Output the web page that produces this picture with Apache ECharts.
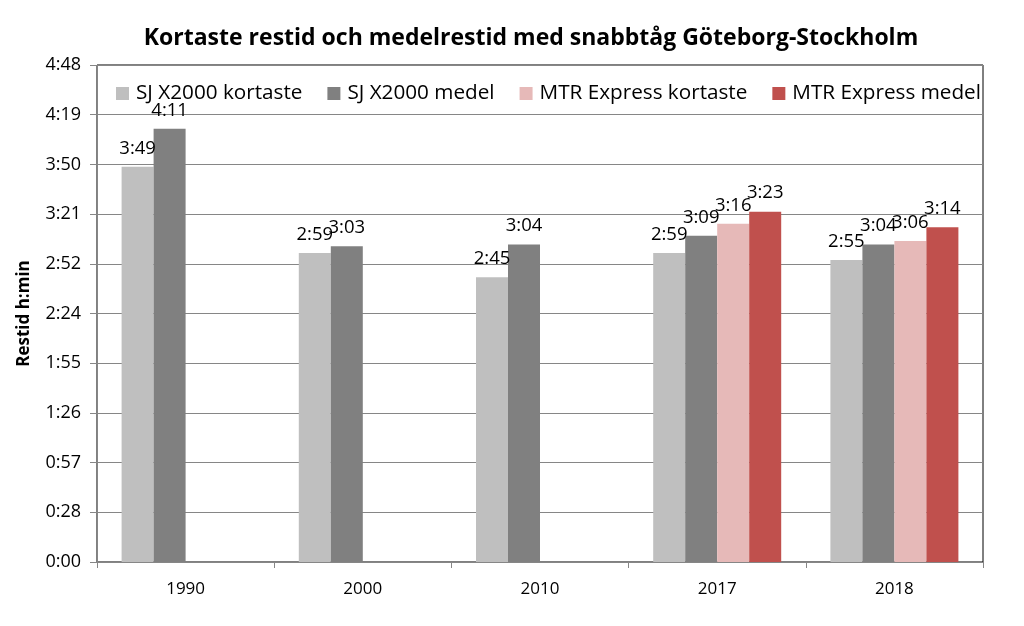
<!DOCTYPE html>
<html><head><meta charset="utf-8">
<script src="https://cdn.jsdelivr.net/npm/echarts@6/dist/echarts.min.js"></script>
<style>html,body{margin:0;padding:0;background:#fff}#c{width:1024px;height:626px}</style>
</head><body><div id="c"></div>
<script>
const categories = ['1990','2000','2010','2017','2018'];
const seriesNames = ['SJ X2000 kortaste','SJ X2000 medel','MTR Express kortaste','MTR Express medel'];
// minutes
const sjKortaste = [229, 179, 165, 179, 175];
const sjMedel = [251, 183, 184, 189, 184];
const mtrKortaste = [null, null, null, 196, 186];
const mtrMedel = [null, null, null, 203, 194];
const colors = ['#bfbfbf','#808080','#e6b9b8','#c0504d'];

function fmt(v){
  const m = Math.floor(v + 1e-6);
  const h = Math.floor(m/60), mm = m%60;
  return h + ':' + (mm<10?'0':'') + mm;
}
const FONT = 'Open Sans';
const chart = echarts.init(document.getElementById('c'));
const data = [sjKortaste, sjMedel, mtrKortaste, mtrMedel];
chart.setOption({
  animation:false,
  textStyle:{fontFamily:FONT},
  title:{text:'Kortaste restid och medelrestid med snabbtåg Göteborg-Stockholm',left:526,textAlign:'center',top:22,
    textStyle:{fontFamily:FONT,fontSize:23,fontWeight:'bold',color:'#000'}},
  legend:{top:78,left:111,itemWidth:13,itemHeight:13,itemGap:25,
    textStyle:{fontFamily:FONT,fontSize:20.7,color:'#000',padding:[0,0,0,2]},
    data:seriesNames.map((n,i)=>({name:n,icon:'rect'}))},
  grid:{left:97,right:41,top:65,bottom:64,show:true,borderColor:'#000',borderWidth:1},
  xAxis:{type:'category',data:categories,
    axisLine:{lineStyle:{color:'#868686'}},
    axisTick:{show:true,length:6,lineStyle:{color:'#868686'}},
    axisLabel:{fontFamily:FONT,fontSize:17,color:'#000',margin:19}},
  yAxis:{type:'value',min:0,max:288,interval:28.8,
    name:'Restid h:min',nameLocation:'middle',nameGap:64,
    nameTextStyle:{fontFamily:FONT,fontSize:17,fontWeight:'bold',color:'#000'},
    axisLine:{show:true,lineStyle:{color:'#868686'}},
    axisTick:{show:true,length:7,inside:false,lineStyle:{color:'#868686'}},
    splitLine:{lineStyle:{color:'#868686'}},
    axisLabel:{fontFamily:FONT,fontSize:18,color:'#000',margin:16,formatter:fmt}},
  series:data.map((d,i)=>({
    name:seriesNames[i],type:'bar',data:d,barWidth:32,barGap:'0%',barCategoryGap:'27.7%',
    itemStyle:{color:colors[i]},
    label:{show:true,position:'top',distance:9,fontFamily:FONT,fontSize:18.5,color:'#000',
      formatter:p=>fmt(p.value)}
  }))
});
</script></body></html>
